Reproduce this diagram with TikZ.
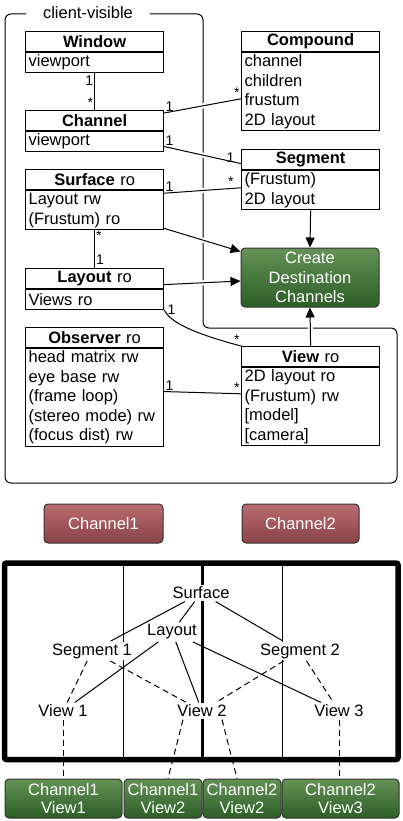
\documentclass[tikz,border=0pt]{standalone}
\usepackage{fontspec}
\setmainfont{Liberation Sans}
\usetikzlibrary{arrows.meta,positioning}
\definecolor{cdgreentop}{RGB}{100,146,86}
\definecolor{cdgreenmid}{RGB}{60,110,52}
\definecolor{cdgreenbot}{RGB}{44,94,38}
\definecolor{chredtop}{RGB}{186,108,112}
\definecolor{chredmid}{RGB}{146,74,78}
\definecolor{chredbot}{RGB}{136,66,70}

\begin{document}
\begin{tikzpicture}[x=1pt, y=-1pt, line width=1pt,
    font=\fontsize{16.5}{19.5}\selectfont,
    classhead/.style={rectangle, draw, line width=1.2pt, anchor=north west, text width=132pt,
                 inner xsep=3pt, inner ysep=0pt, minimum height=20pt, align=center},
    classbody/.style={rectangle, draw, line width=1.2pt, text width=132pt, inner xsep=3pt,
                 inner ysep=0pt, align=left, minimum height=#1*19.5pt},
    greenbox/.style={rectangle, rounded corners=4pt, draw=black!80, top color=cdgreentop,
                 middle color=cdgreenmid, bottom color=cdgreenbot, text=white, align=center, inner sep=0pt},
    redbox/.style={rectangle, rounded corners=4pt, draw=black!80, top color=chredtop,
                 middle color=chredmid, bottom color=chredbot, text=white, align=center, inner sep=0pt},
    mult/.style={font=\fontsize{14}{14}\selectfont, inner sep=1pt},
    conn/.style={preaction={draw=white, line width=5pt, arrows=-, shorten <=6pt, shorten >=6pt}},
    arr/.style={-{Triangle[length=10pt, width=9pt]}},
    tag/.style={fill=white, inner sep=2pt},
    linkdash/.style={dash pattern=on 6pt off 4pt}
]
\useasboundingbox (0,0) rectangle (403,821);

% classes
\node[classhead] (win) at (25,31) {\textbf{Window}};
\node[classbody=1, below=0pt of win] (winb) {viewport};
\node[classhead] (chan) at (25,110) {\textbf{Channel}};
\node[classbody=1, below=0pt of chan] (chanb) {viewport};
\node[classhead] (surf) at (25,169) {\textbf{Surface} ro};
\node[classbody=2, below=0pt of surf] (surfb) {Layout rw\\(Frustum) ro};
\node[classhead] (lay) at (25,268) {\textbf{Layout} ro};
\node[classbody=1, below=0pt of lay] (layb) {Views ro};
\node[classhead] (obs) at (25,327) {\textbf{Observer} ro};
\node[classbody=5, below=0pt of obs] (obsb) {head matrix rw\\eye base rw\\(frame loop)\\(stereo mode) rw\\(focus dist) rw};
\node[classhead] (comp) at (241,31) {\textbf{Compound}};
\node[classbody=4, below=0pt of comp] (compb) {channel\\children\\frustum\\2D layout};
\node[classhead] (seg) at (241,149) {\textbf{Segment}};
\node[classbody=2, below=0pt of seg] (segb) {(Frustum)\\2D layout};
\node[classhead] (view) at (241,346) {\textbf{View} ro};
\node[classbody=4, below=0pt of view] (viewb) {2D layout ro\\(Frustum) rw\\{[model]}\\{[camera]}};
\node[greenbox, minimum width=138pt, minimum height=59pt] (create) at (310,277.5) {Create\\Destination\\Channels};

% client-visible boundary
\draw[rounded corners=6pt] (100,14) -- (203,14) -- (203,328) -- (397,328) -- (397,483)
    -- (5,483) -- (5,14) -- (100,14);
\node[fill=white, inner xsep=17pt, inner ysep=1pt] (visible) at (88,13) {client-visible};

% associations
\draw (winb.south) -- node[mult, pos=0.22, left]{1} node[mult, pos=0.8, left]{*} (chan.north);
\draw (surfb.south) -- node[mult, pos=0.15, right]{*} node[mult, pos=0.78, right]{1} (lay.north);
\draw[conn] ([yshift=-3pt]chan.north east) -- node[mult, at start, anchor=south west]{1}
    node[mult, at end, anchor=south east]{*} ([yshift=-7pt]compb.west);
\draw[conn] ([yshift=-5pt]chanb.east) -- node[mult, at start, anchor=south west]{1}
    node[mult, at end, anchor=south east, xshift=-5pt]{1} ([yshift=-4pt]seg.west);
\draw[conn] ([yshift=-3pt]surfb.north east) -- node[mult, at start, anchor=south west]{1}
    node[mult, at end, anchor=south east, xshift=-6pt]{*} ([yshift=2.5pt]segb.west);
\draw (obsb.east) ++(0,-6) -- node[mult, at start, anchor=south west]{1}
    node[mult, at end, anchor=south east]{*} ([yshift=13pt]viewb.west);
\draw (layb.south east) .. controls (170,322) and (192,333) .. node[mult, at start, anchor=west, xshift=2pt]{1}
    node[mult, at end, anchor=south east]{*} (view.north west);

% flows into the destination channels
\draw[conn, arr] ([yshift=2pt]surfb.south east) -- ([yshift=-4pt]create.north west);
\draw[conn, arr] ([yshift=-6pt]lay.east) -- ([yshift=-3.5pt]create.west);
\draw[conn, arr] (segb.south) -- (create.north);
\draw[conn, arr] (view.north) -- (create.south);

% channels
\node[redbox, minimum width=119pt, minimum height=39pt] (ch1) at (103.5,523.5) {Channel1};
\node[redbox, minimum width=117pt, minimum height=39pt] (ch2) at (300.5,523.5) {Channel2};

% display frame
\draw[line width=5.5pt, rounded corners=2pt] (4.5,563) rectangle (398,759.5);
\draw (123,563) -- (123,759.5);
\draw[line width=3pt] (202.5,563) -- (202.5,759.5);
\draw (282,563) -- (282,759.5);

\node[tag] (surfL) at (201,593) {Surface};
\node[tag] (layL) at (172,632) {Layout};
\node[tag] (seg1L) at (92,651) {Segment 1};
\node[tag] (seg2L) at (300,651) {Segment 2};
\node[tag] (v1L) at (63,711) {View 1};
\node[tag] (v2L) at (202,711) {View 2};
\node[tag] (v3L) at (339,711) {View 3};

\draw (surfL) -- (seg1L);
\draw (surfL) -- (layL);
\draw (surfL) -- (seg2L);
\draw (layL) -- (v1L);
\draw (layL) -- (v2L);
\draw (layL) -- (v3L);
\draw[linkdash] (seg1L) -- (v1L);
\draw[linkdash] (seg1L) -- (v2L);
\draw[linkdash] (seg2L) -- (v2L);
\draw[linkdash] (seg2L) -- (v3L);

% destination channels
\begin{scope}[font=\fontsize{16.5}{18}\selectfont]
\node[greenbox, minimum width=117pt, minimum height=39pt] (cv1) at (63.5,798.5) {Channel1\\View1};
\node[greenbox, minimum width=78pt, minimum height=39pt] (cv2) at (163,798.5) {Channel1\\View2};
\node[greenbox, minimum width=78pt, minimum height=39pt] (cv3) at (242,798.5) {Channel2\\View2};
\node[greenbox, minimum width=117pt, minimum height=39pt] (cv4) at (340.5,798.5) {Channel2\\View3};
\end{scope}

\draw[linkdash] (v1L) -- (v1L |- cv1.north);
\draw[linkdash] ([xshift=-19pt]v2L.south) -- ([xshift=5pt]cv2.north);
\draw[linkdash] ([xshift=20pt]v2L.south) -- ([xshift=-5pt]cv3.north);
\draw[linkdash] (v3L) -- (v3L |- cv4.north);
\end{tikzpicture}
\end{document}
